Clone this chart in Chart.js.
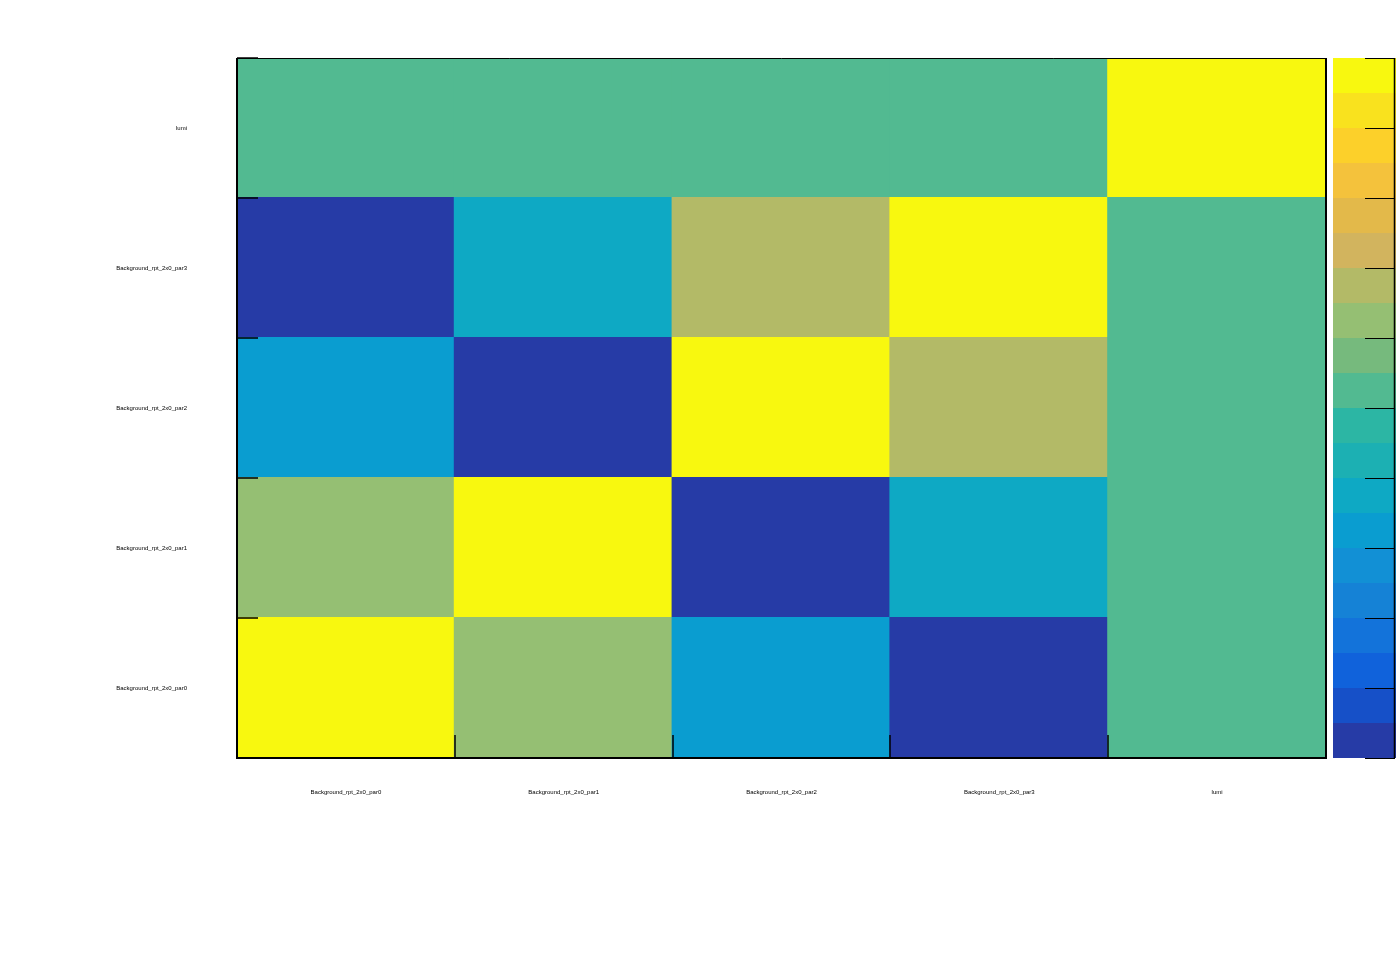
<!DOCTYPE html>
<html>
<head>
<meta charset="utf-8">
<script src="https://cdn.jsdelivr.net/npm/chart.js@4/dist/chart.umd.min.js"></script>
<style>
  html, body { margin: 0; padding: 0; background: #ffffff; }
  #wrap { position: relative; width: 1396px; height: 972px; }
  canvas { display: block; }
</style>
</head>
<body>
<div id="wrap"><canvas id="c" width="1396" height="972"></canvas></div>
<script>
// ---- data ----
const colLabels = ["Background_rpt_2x0_par0", "Background_rpt_2x0_par1", "Background_rpt_2x0_par2", "Background_rpt_2x0_par3", "lumi"];
const rowLabels = ["Background_rpt_2x0_par0", "Background_rpt_2x0_par1", "Background_rpt_2x0_par2", "Background_rpt_2x0_par3", "lumi"];
// correlation values, row = y index (bottom to top), column = x index
const rowPar0 = [1.0, 0.25, -0.35, -0.95, 0.0];
const rowPar1 = [0.25, 1.0, -0.95, -0.25, 0.0];
const rowPar2 = [-0.35, -0.95, 1.0, 0.35, 0.0];
const rowPar3 = [-0.95, -0.25, 0.35, 1.0, 0.0];
const rowLumi = [0.0, 0.0, 0.0, 0.0, 1.0];
const matrix = [rowPar0, rowPar1, rowPar2, rowPar3, rowLumi];
// colour levels from bottom (-1) to top (+1), 20 contours
const zMin = -1, zMax = 1;
const paletteLevels = ["#263ba6", "#1650c8", "#1062db", "#1373da", "#1582d6", "#1290d5", "#0a9dd0", "#0ea9c4", "#1cb0b3", "#2cb6a4",
                       "#52ba91", "#76ba7d", "#95bf73", "#b3ba67", "#d2b45e", "#e3b94a", "#f4c23c", "#fcd02a", "#f9e21e", "#f8f80f"];
const colorbarTicks = [-1.0, -0.8, -0.6, -0.4, -0.2, 0.0, 0.2, 0.4, 0.6, 0.8, 1.0];

function colorFor(v) {
  const n = paletteLevels.length;
  let idx = Math.floor((v - zMin) / (zMax - zMin) * n + 1e-9);
  if (idx < 0) idx = 0;
  if (idx > n - 1) idx = n - 1;
  return paletteLevels[idx];
}

const datasets = matrix.map((row, i) => ({
  label: rowLabels[i],
  data: row.map(() => [i, i + 1]),
  backgroundColor: row.map(v => colorFor(v)),
  borderWidth: 0,
  inflateAmount: 1,
  barPercentage: 1.0,
  categoryPercentage: 1.0,
  grouped: false
}));

const decorPlugin = {
  id: 'decor',
  afterDatasetsDraw(chart) {
    const ctx = chart.ctx;
    const a = chart.chartArea;
    const xs = chart.scales.x, ys = chart.scales.y, zs = chart.scales.z;
    ctx.save();
    // colorbar
    const cbL = 1333, cbR = 1396;
    for (let k = 0; k < paletteLevels.length; k++) {
      const lo = zMin + (zMax - zMin) * k / paletteLevels.length;
      const hi = zMin + (zMax - zMin) * (k + 1) / paletteLevels.length;
      const y1 = zs.getPixelForValue(hi), y0 = zs.getPixelForValue(lo);
      ctx.fillStyle = paletteLevels[k];
      ctx.fillRect(cbL, Math.round(y1), cbR - cbL, Math.round(y0) - Math.round(y1));
    }
    ctx.strokeStyle = '#000';
    ctx.lineWidth = 1.5;
    ctx.beginPath();
    ctx.moveTo(1394.5, zs.getPixelForValue(zMax));
    ctx.lineTo(1394.5, zs.getPixelForValue(zMin));
    ctx.stroke();
    ctx.lineWidth = 1;
    colorbarTicks.forEach(t => {
      const y = Math.round(zs.getPixelForValue(t)) + 0.5;
      ctx.beginPath();
      ctx.moveTo(1365, y);
      ctx.lineTo(1395, y);
      ctx.stroke();
    });
    // frame
    ctx.lineWidth = 2;
    ctx.beginPath();
    ctx.moveTo(a.left, a.top);
    ctx.lineTo(a.left, a.bottom);
    ctx.lineTo(a.right, a.bottom);
    ctx.lineTo(a.right, a.top);
    ctx.stroke();
    ctx.lineWidth = 1;
    ctx.beginPath();
    ctx.moveTo(a.left, a.top + 0.5);
    ctx.lineTo(a.right, a.top + 0.5);
    ctx.stroke();
    // y tick marks at row boundaries (inside)
    ctx.lineWidth = 1.5;
    for (let i = 0; i <= rowLabels.length; i++) {
      const y = Math.round(ys.getPixelForValue(i));
      ctx.beginPath();
      ctx.moveTo(a.left, y);
      ctx.lineTo(a.left + 21, y);
      ctx.stroke();
    }
    // x tick marks at column boundaries (inside)
    const cw = (a.right - a.left) / colLabels.length;
    for (let j = 1; j < colLabels.length; j++) {
      const x = Math.round(xs.getPixelForValue(j) - cw / 2);
      ctx.beginPath();
      ctx.moveTo(x, a.bottom);
      ctx.lineTo(x, a.bottom - 23);
      ctx.stroke();
    }
    ctx.restore();
  }
};

new Chart(document.getElementById('c'), {
  type: 'bar',
  data: { labels: colLabels, datasets: datasets },
  options: {
    responsive: false,
    animation: false,
    layout: { padding: { top: 58, right: 70, left: 0, bottom: 0 } },
    plugins: { legend: { display: false }, tooltip: { enabled: false }, title: { display: false } },
    scales: {
      x: {
        type: 'category',
        offset: true,
        grid: { display: false, drawTicks: false },
        border: { display: false },
        ticks: { font: { family: 'Liberation Sans', size: 6 }, color: '#000', padding: 31, maxRotation: 0, autoSkip: false },
        afterFit(s) { s.height = 214; }
      },
      y: {
        type: 'linear',
        min: 0, max: 5,
        grid: { display: false, drawTicks: false },
        border: { display: false },
        afterBuildTicks(s) { s.ticks = rowLabels.map((_, i) => ({ value: i + 0.5 })); },
        ticks: {
          font: { family: 'Liberation Sans', size: 6 }, color: '#000', padding: 50, autoSkip: false,
          callback: (v) => rowLabels[Math.floor(v)]
        },
        afterFit(s) { s.width = 237; }
      },
      z: {
        type: 'linear',
        position: 'right',
        display: false,
        min: zMin, max: zMax
      }
    }
  },
  plugins: [decorPlugin]
});
</script>
</body>
</html>
